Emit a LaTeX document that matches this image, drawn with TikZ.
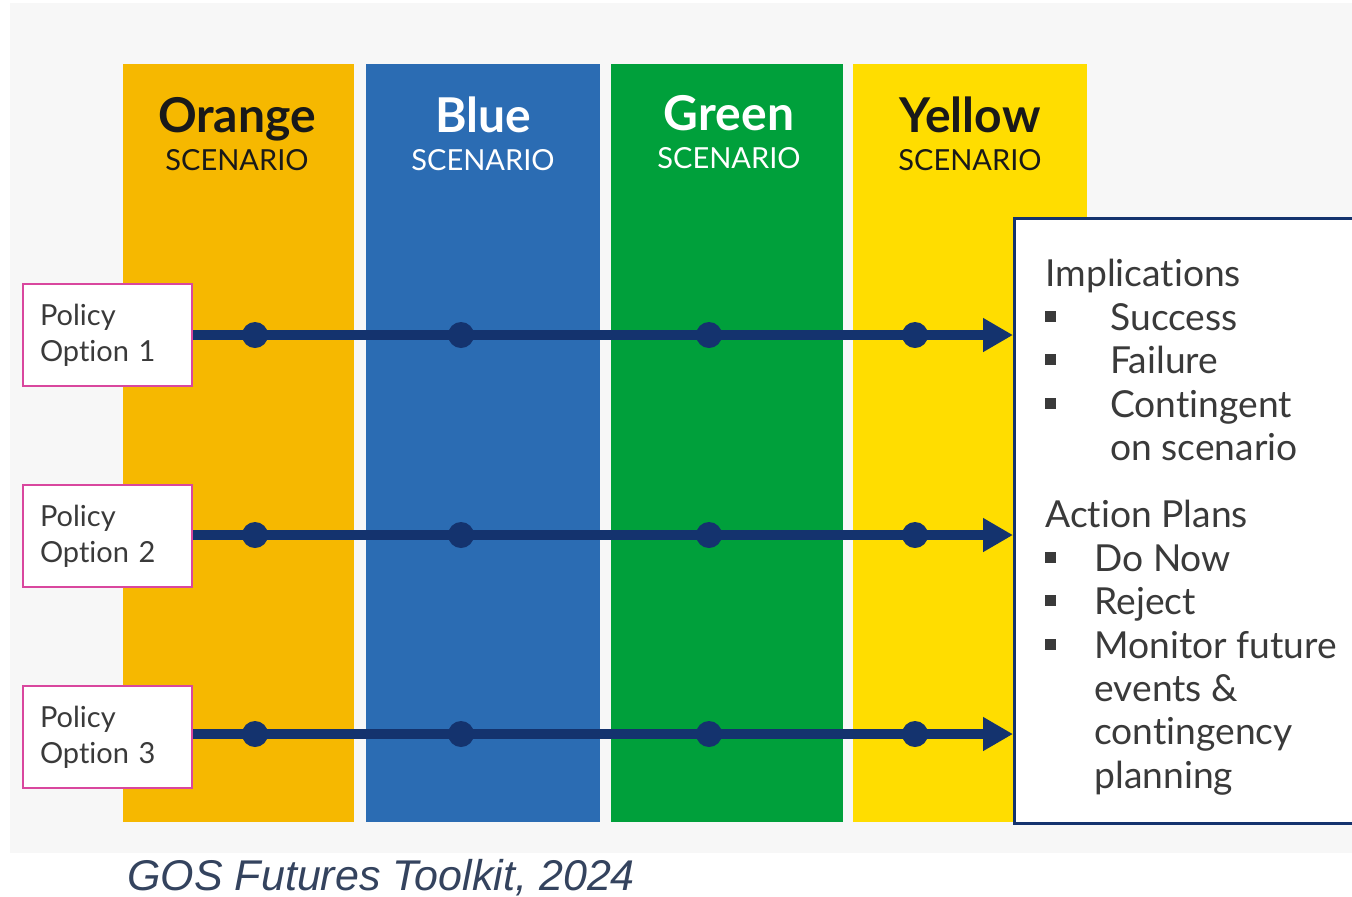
\documentclass[tikz,border=0pt]{standalone}
\usepackage{fontspec}
\setmainfont{Lato}[Ligatures=NoCommon]
\setsansfont{Liberation Sans}
\usetikzlibrary{arrows.meta,positioning,calc}
\definecolor{orangeColor}{RGB}{246,184,0}
\definecolor{blueColor}{RGB}{43,108,179}
\definecolor{greenColor}{RGB}{0,160,59}
\definecolor{yellowColor}{RGB}{255,221,0}
\definecolor{navyColor}{RGB}{20,51,110}
\definecolor{pinkColor}{RGB}{217,71,158}
\definecolor{panelColor}{RGB}{247,247,247}
\definecolor{captionColor}{RGB}{52,67,94}
\definecolor{textColor}{RGB}{58,58,58}
\definecolor{darkTitle}{RGB}{25,25,25}
\tikzset{scenario/.style={inner sep=0, minimum height=379pt}}
\tikzset{title/.style={anchor=base, inner sep=0, font=\bfseries\fontsize{24}{28}\selectfont}}
\tikzset{subtitle/.style={anchor=base, inner sep=0, font=\fontsize{14.5}{17}\selectfont}}
\tikzset{policy/.style={draw=pinkColor, line width=1pt, fill=white, align=left, text width=67.5pt, inner xsep=8.5pt, minimum height=51pt, text=textColor, font=\fontsize{14.5}{18}\selectfont}}
\tikzset{outcomebox/.style={draw=navyColor, line width=1.5pt, fill=white, inner sep=0, anchor=north west, minimum width=185pt, minimum height=302.5pt}}
\tikzset{flow/.style={navyColor, line width=5pt, -{Triangle[length=15pt, width=16pt]}}}
\newcommand{\blt}[1]{\makebox[#1][l]{\rule[0.22em]{5.5pt}{5.5pt}}}

\begin{document}
\begin{tikzpicture}[x=0.5pt, y=-0.5pt]
\useasboundingbox (0,0) rectangle (1352,896);
\fill[panelColor] (10,3) rectangle (1352,853);

% Scenarios
\node (orange) [scenario, fill=orangeColor, minimum width=115.5pt] at (238.5,443) {};
\node (blue) [scenario, fill=blueColor, minimum width=117pt] at (483,443) {};
\node (green) [scenario, fill=greenColor, minimum width=116pt] at (727,443) {};
\node (yellow) [scenario, fill=yellowColor, minimum width=117pt] at (970,443) {};

\node (orangeTitle) [title, text=darkTitle] at (237,132) {Orange};
\node (orangeSub) [subtitle, text=darkTitle] at (237,170) {SCENARIO};
\node (blueTitle) [title, text=white] at (483,132) {Blue};
\node (blueSub) [subtitle, text=white] at (483,170) {SCENARIO};
\node (greenTitle) [title, text=white] at (729,130) {Green};
\node (greenSub) [subtitle, text=white] at (729,168) {SCENARIO};
\node (yellowTitle) [title, text=darkTitle] at (970,132) {Yellow};
\node (yellowSub) [subtitle, text=darkTitle] at (970,170) {SCENARIO};

% Outcomes
\node (outcome) [outcomebox] at (1013,217) {};
\node (outcomeText) [anchor=north west, inner sep=0, align=left, text=textColor,
  font=\fontsize{18.6}{21.7}\selectfont] at (1045,259) {%
Implications\\
\blt{32.5pt}Success\\
\blt{32.5pt}Failure\\
\blt{32.5pt}Contingent\\
\hspace*{32.5pt}on scenario\\[12pt]
Action Plans\\
\blt{24.5pt}Do Now\\
\blt{24.5pt}Reject\\
\blt{24.5pt}Monitor future\\
\hspace*{24.5pt}events \&\\
\hspace*{24.5pt}contingency\\
\hspace*{24.5pt}planning};

% Policy options
\node (policy1) [policy] at (107.5,335) {Policy\\Option 1};
\node (policy2) [policy] at (107.5,536) {Policy\\Option 2};
\node (policy3) [policy] at (107.5,737) {Policy\\Option 3};

% Connectors
\foreach \r/\y in {1/335,2/535,3/734} {
  \draw[flow] (policy\r.east |- 0,\y) -- (outcome.west |- 0,\y);
  \foreach \x in {255,461,709,915}
    \fill[navyColor] (\x,\y) circle (6.5pt);
}

\node (caption) [anchor=base west, inner sep=0, text=captionColor,
  font=\sffamily\itshape\fontsize{21.5}{26}\selectfont] at (127,890) {GOS Futures Toolkit, 2024};
\end{tikzpicture}
\end{document}
